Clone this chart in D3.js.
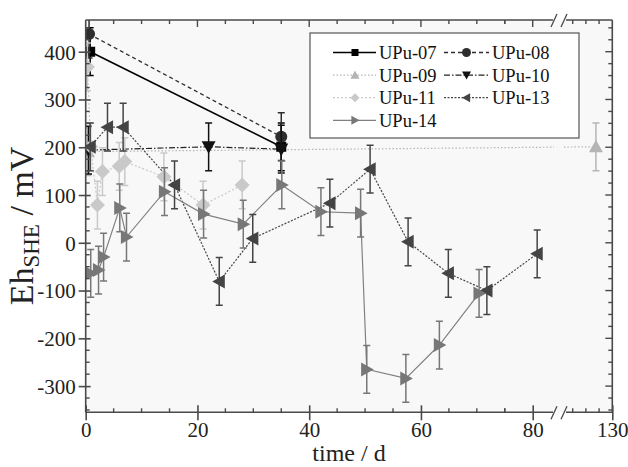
<!DOCTYPE html>
<html><head><meta charset="utf-8">
<script src="https://cdn.jsdelivr.net/npm/d3@7"></script>
<style>body{margin:0;background:#fff}svg{display:block}text{font-family:"Liberation Serif","Times New Roman",serif}</style>
</head><body><svg id="c" width="628" height="467"></svg>
<script>
// ---- data (time in days, Eh in mV) ----
const seriesNames = ["UPu-07","UPu-08","UPu-09","UPu-10","UPu-11","UPu-13","UPu-14"];
const days07 = [0.8, 35];            const vals07 = [400, 201];
const days08 = [0.6, 35];            const vals08 = [437, 222];
const days09 = [0.4, 123.8];         const vals09 = [191, 201];
const days10 = [0.5, 22, 35];        const vals10 = [194, 201, 196];
const days11 = [0.3, 0.9, 2.1, 3, 6, 7, 14, 21, 28];
const vals11 = [368, 201, 79, 149, 160, 170, 138, 79, 121];
const days13 = [0.8, 3.9, 6.7, 15.9, 23.9, 29.9, 43.7, 50.9, 57.7, 64.9, 71.8, 80.8];
const vals13 = [201, 242, 242, 121, -81, 9, 83, 154, 2, -64, -100, -23];
const days14 = [0.9, 2.3, 3.2, 6.1, 7.3, 14.1, 21.1, 28.2, 35.1, 42.1, 49.2, 50.3, 57.3, 63.3, 70.4];
const vals14 = [-64, -57, -30, 73, 12, 107, 60, 39, 121, 65, 62, -265, -284, -214, -106];
const errMV = 50;
const xTicksLeft = [0, 20, 40, 60, 80];
const xTicksRight = [130];
const yTicks = [-300, -200, -100, 0, 100, 200, 300, 400];

// ---- layout ----
const L = 85.7, R = 612.3, T = 20, B = 412.3;
const brkA = 554, brkB = 564;
const xL = d3.scaleLinear().domain([0, 80]).range([85.7, 532.7]);
const xR = d3.scaleLinear().domain([115, 130]).range([572.7, 612.3]);
const X = d => d <= 100 ? xL(d) : xR(d);
const y = d3.scaleLinear().domain([-300, 400]).range([386.1, 51.7]);

const svg = d3.select("#c");
svg.append("rect").attr("x", L).attr("y", T).attr("width", R - L).attr("height", B - T).attr("fill", "#f8f8f8");

const defs = svg.append("defs");
const cp = defs.append("clipPath").attr("id", "cl");
cp.append("rect").attr("x", L).attr("y", T).attr("width", brkA - L).attr("height", B - T);
cp.append("rect").attr("x", brkB).attr("y", T).attr("width", R - brkB).attr("height", B - T);
defs.append("clipPath").attr("id", "cp").append("rect").attr("x", L).attr("y", T).attr("width", R - L).attr("height", B - T);

function markerPath(shape, s) {
  const h = s / 2;
  switch (shape) {
    case "square": return `M${-h},${-h}H${h}V${h}H${-h}Z`;
    case "circle": return d3.symbol(d3.symbolCircle, Math.PI * h * h)();
    case "up": return `M0,${-h}L${h},${h * 0.8}L${-h},${h * 0.8}Z`;
    case "down": return `M0,${h}L${h},${-h * 0.8}L${-h},${-h * 0.8}Z`;
    case "left": return `M${-h},0L${h * 0.8},${-h}L${h * 0.8},${h}Z`;
    case "right": return `M${h},0L${-h * 0.8},${-h}L${-h * 0.8},${h}Z`;
    case "diamond": return `M0,${-h}L${h},0L0,${h}L${-h},0Z`;
  }
}

const series = [
  {name: seriesNames[0], d: days07, v: vals07, color: "#000", lc: "#000", dash: null, shape: "square", size: 10, lw: 1.6},
  {name: seriesNames[1], d: days08, v: vals08, color: "#2e2e2e", lc: "#2e2e2e", dash: "4,3", shape: "circle", size: 12, lw: 1.3},
  {name: seriesNames[2], d: days09, v: vals09, color: "#b5b5b5", lc: "#b5b5b5", dash: "1.5,2", shape: "up", size: 14, lw: 1.2},
  {name: seriesNames[3], d: days10, v: vals10, color: "#111", lc: "#222", dash: "6,2,1.5,2", shape: "down", size: 14, lw: 1.2},
  {name: seriesNames[4], d: days11, v: vals11, color: "#c9c9c9", lc: "#c9c9c9", dash: "2,2", shape: "diamond", size: 15, lw: 1.2},
  {name: seriesNames[5], d: days13, v: vals13, color: "#444", lc: "#444", dash: "2,1.5", shape: "left", size: 14, lw: 1.2},
  {name: seriesNames[6], d: days14, v: vals14, color: "#777", lc: "#808080", dash: null, shape: "right", size: 14, lw: 1.2}
];

const lineG = svg.append("g").attr("clip-path", "url(#cl)");
const markG = svg.append("g").attr("clip-path", "url(#cp)");
const line = d3.line().x(p => X(p[0])).y(p => y(p[1]));
series.forEach(s => {
  const pts = s.d.map((d, i) => [d, s.v[i]]);
  lineG.append("path").attr("d", line(pts)).attr("fill", "none")
    .attr("stroke", s.lc).attr("stroke-width", s.lw).attr("stroke-dasharray", s.dash);
  s.pts = pts;
});
series.forEach(s => {
  const g = markG.append("g");
  s.pts.forEach(p => {
    const cx = X(p[0]), y1 = y(p[1] + errMV), y2 = y(p[1] - errMV);
    g.append("path").attr("d", `M${cx},${y1}V${y2}M${cx - 3.5},${y1}H${cx + 3.5}M${cx - 3.5},${y2}H${cx + 3.5}`)
      .attr("stroke", s.color).attr("stroke-width", 1.5).attr("fill", "none");
  });
  s.pts.forEach(p => {
    g.append("path").attr("d", markerPath(s.shape, s.size))
      .attr("transform", `translate(${X(p[0])},${y(p[1])})`).attr("fill", s.color);
  });
});

// ---- frame & axes ----
const fc = "#4a4a4a";
const fr = svg.append("g").attr("stroke", fc).attr("stroke-width", 1.6).attr("fill", "none");
fr.append("path").attr("d", `M${L},${T}V${B}M${R},${T}V${B}M${L},${B}H${brkA - 1}M${brkB + 2},${B}H${R}M${L},${T}H${brkA - 1}M${brkB + 2},${T}H${R}`);
[B, T].forEach(yy => {
  fr.append("path").attr("d", `M${brkA - 3},${yy + 7}L${brkA + 3},${yy - 6}M${brkB - 3},${yy + 7}L${brkB + 3},${yy - 6}`).attr("stroke-width", 1.3);
});

const fs = "21px";
const fmt = d => String(d);
function styleAxis(g) {
  g.select(".domain").remove();
  g.attr("font-family", null);
  g.selectAll("text").attr("font-size", fs).attr("fill", "#222").style("font-family", '"Liberation Serif", serif');
  g.selectAll("line").attr("stroke", fc).attr("stroke-width", 1.6);
}
const axB1 = svg.append("g").attr("transform", `translate(0,${B})`).call(d3.axisBottom(xL).tickValues(xTicksLeft).tickFormat(fmt).tickSize(8).tickPadding(2));
const axB2 = svg.append("g").attr("transform", `translate(0,${B})`).call(d3.axisBottom(xR).tickValues(xTicksRight).tickFormat(fmt).tickSize(8).tickPadding(2));
[axB1, axB2].forEach(g => { styleAxis(g); g.selectAll("line").attr("y1", -7); });
const axL = svg.append("g").attr("transform", `translate(${L},0)`).call(d3.axisLeft(y).tickValues(yTicks).tickFormat(fmt).tickSize(7).tickPadding(3));
styleAxis(axL); axL.selectAll("line").attr("x1", 5); axL.selectAll("text").attr("dy", "0.35em");

const tk = svg.append("g").attr("stroke", fc).attr("stroke-width", 1.4);
const minorX = d3.range(5, 80, 5).filter(v => v % 20 !== 0).concat([75]);
minorX.forEach(v => {
  tk.append("line").attr("x1", xL(v)).attr("x2", xL(v)).attr("y1", B).attr("y2", B - 4);
  tk.append("line").attr("x1", xL(v)).attr("x2", xL(v)).attr("y1", T).attr("y2", T + 4);
});
[115, 120, 125].forEach(v => {
  tk.append("line").attr("x1", xR(v)).attr("x2", xR(v)).attr("y1", B).attr("y2", B - 4);
  tk.append("line").attr("x1", xR(v)).attr("x2", xR(v)).attr("y1", T).attr("y2", T + 4);
});
xTicksLeft.filter(v => v > 0).forEach(v => tk.append("line").attr("x1", xL(v)).attr("x2", xL(v)).attr("y1", T).attr("y2", T + 7));
const minorY = d3.range(-350, 451, 25).filter(v => v % 100 !== 0);
minorY.forEach(v => {
  tk.append("line").attr("x1", L).attr("x2", L + 4).attr("y1", y(v)).attr("y2", y(v));
  tk.append("line").attr("x1", R).attr("x2", R - 4).attr("y1", y(v)).attr("y2", y(v));
});
yTicks.forEach(v => tk.append("line").attr("x1", R).attr("x2", R - 7).attr("y1", y(v)).attr("y2", y(v)));

svg.append("text").attr("x", (L + R) / 2).attr("y", 461).attr("text-anchor", "middle")
  .attr("font-size", "24px").attr("fill", "#222").text("time / d");
const yt = svg.append("text").attr("transform", `translate(33,226) rotate(-90)`)
  .attr("text-anchor", "middle").attr("font-size", "34px").attr("fill", "#222");
yt.append("tspan").text("Eh");
yt.append("tspan").attr("font-size", "23px").attr("dy", 6).text("SHE");
yt.append("tspan").attr("dy", -6).text(" / mV");

// ---- legend ----
const lg = svg.append("g");
lg.append("rect").attr("x", 310).attr("y", 33).attr("width", 269).attr("height", 105)
  .attr("fill", "#fff").attr("stroke", "#555").attr("stroke-width", 1.2);
const cols = [{lx1: 333, lx2: 376, mx: 355, tx: 379}, {lx1: 444, lx2: 489, mx: 466.5, tx: 492}];
series.forEach((s, i) => {
  const row = Math.floor(i / 2), c = cols[i % 2];
  const yy = 52.5 + row * 22.6;
  lg.append("line").attr("x1", c.lx1).attr("x2", c.lx2).attr("y1", yy).attr("y2", yy)
    .attr("stroke", s.lc).attr("stroke-width", s.lw).attr("stroke-dasharray", s.dash);
  lg.append("path").attr("d", markerPath(s.shape, s.shape === "square" ? 7 : 9))
    .attr("transform", `translate(${c.mx},${yy})`).attr("fill", s.color);
  lg.append("text").attr("x", c.tx).attr("y", yy).attr("dy", "0.35em").attr("font-size", "18.5px")
    .attr("fill", "#111").text(s.name);
});
</script></body></html>
